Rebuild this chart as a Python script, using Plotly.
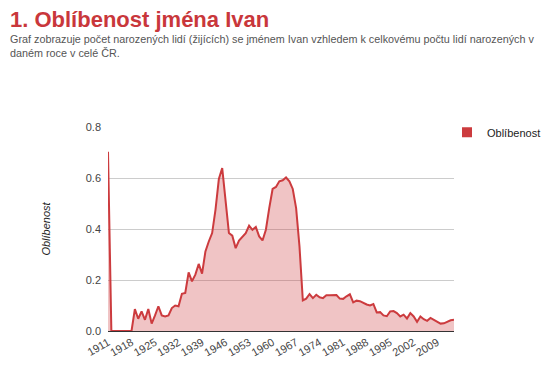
import plotly.graph_objects as go

years = list(range(1911, 2015))
values = [
    0.703, 0.0, 0.0, 0.0, 0.0, 0.0, 0.0, 0.0,          # 1911-1918
    0.086, 0.048, 0.077, 0.044, 0.086, 0.029, 0.061,   # 1919-1925
    0.097, 0.061, 0.057, 0.061, 0.090, 0.100, 0.097,   # 1926-1932
    0.146, 0.149, 0.230, 0.195, 0.221, 0.263, 0.225,   # 1933-1939
    0.312, 0.351, 0.384, 0.476, 0.596, 0.639, 0.508,   # 1940-1946
    0.384, 0.374, 0.325, 0.355, 0.369, 0.384, 0.413,   # 1947-1953
    0.397, 0.408, 0.371, 0.355, 0.397, 0.482, 0.557,   # 1954-1960
    0.565, 0.587, 0.591, 0.602, 0.587, 0.557, 0.482,   # 1961-1967
    0.332, 0.120, 0.127, 0.145, 0.129, 0.142, 0.132,   # 1968-1974
    0.129, 0.140, 0.140, 0.140, 0.141, 0.127, 0.126,   # 1975-1981
    0.136, 0.144, 0.112, 0.119, 0.117, 0.110, 0.104,   # 1982-1988
    0.100, 0.106, 0.073, 0.074, 0.061, 0.058, 0.077,   # 1989-1995
    0.078, 0.070, 0.057, 0.064, 0.049, 0.070, 0.057,   # 1996-2002
    0.036, 0.057, 0.046, 0.040, 0.051, 0.044, 0.034,   # 2003-2009
    0.029, 0.030, 0.036, 0.042, 0.044,                 # 2010-2014
]
tick_years = list(range(1911, 2010, 7))
y_ticks = [0.0, 0.2, 0.4, 0.6, 0.8]

title_text = "1. Oblíbenost jména Ivan"
subtitle_text = ("Graf zobrazuje počet narozených lidí (žijících) se jménem Ivan vzhledem k celkovému počtu lidí narozených v"
                 "<br>daném roce v celé ČR.")
series_name = "Oblíbenost"

RED = "#cc3b3e"
PW, PH = 346, 204  # plot area size in px

fig = go.Figure()
fig.add_trace(go.Scatter(
    x=years, y=values, mode="lines", fill="tozeroy",
    line=dict(color=RED, width=2), fillcolor="rgba(204,59,62,0.3)",
    showlegend=False, hoverinfo="x+y",
))
fig.add_trace(go.Scatter(
    x=[None], y=[None], mode="markers", name=series_name,
    marker=dict(symbol="square", size=10, color=RED),
))

fig.update_layout(
    width=542, height=357,
    margin=dict(l=100, r=96, t=119, b=34, autoexpand=False),
    paper_bgcolor="white", plot_bgcolor="white",
    font=dict(family="Liberation Sans, Arial, sans-serif", size=11, color="#444"),
    showlegend=True,
    legend=dict(x=(439 - 100) / PW, y=1.045, xanchor="left", yanchor="top",
                font=dict(size=11, color="#222"), itemwidth=30,
                bgcolor="rgba(0,0,0,0)"),
    xaxis=dict(
        range=[1911, 2014], tickmode="array", tickvals=tick_years,
        ticktext=[str(t) for t in tick_years], tickangle=-30,
        showgrid=False, showline=True, linecolor="#333", linewidth=1,
        ticks="", zeroline=False, tickfont=dict(size=11, color="#444"),
    ),
    yaxis=dict(
        range=[0, 0.8], tickmode="array", tickvals=y_ticks,
        ticktext=[f"{v:.1f}" for v in y_ticks],
        showgrid=True, gridcolor="#cccccc", zeroline=False, ticks="",
        tickfont=dict(size=11, color="#444"), ticklabelstandoff=6,
        title=dict(text="<i>" + series_name + "</i>", font=dict(size=11, color="#222"), standoff=32),
    ),
    annotations=[
        dict(text="<b>" + title_text + "</b>", xref="paper", yref="paper",
             x=-100 / PW, y=1 + 122 / PH, xanchor="left", yanchor="top", showarrow=False,
             font=dict(size=22, color="#c9373b", family="Liberation Sans, Arial, sans-serif")),
        dict(text=subtitle_text, xref="paper", yref="paper", align="left",
             x=-100 / PW, y=1 + 96 / PH, xanchor="left", yanchor="top", showarrow=False,
             font=dict(size=10.8, color="#555", family="Liberation Sans, Arial, sans-serif")),
    ],
)

fig.write_html("out.html")
